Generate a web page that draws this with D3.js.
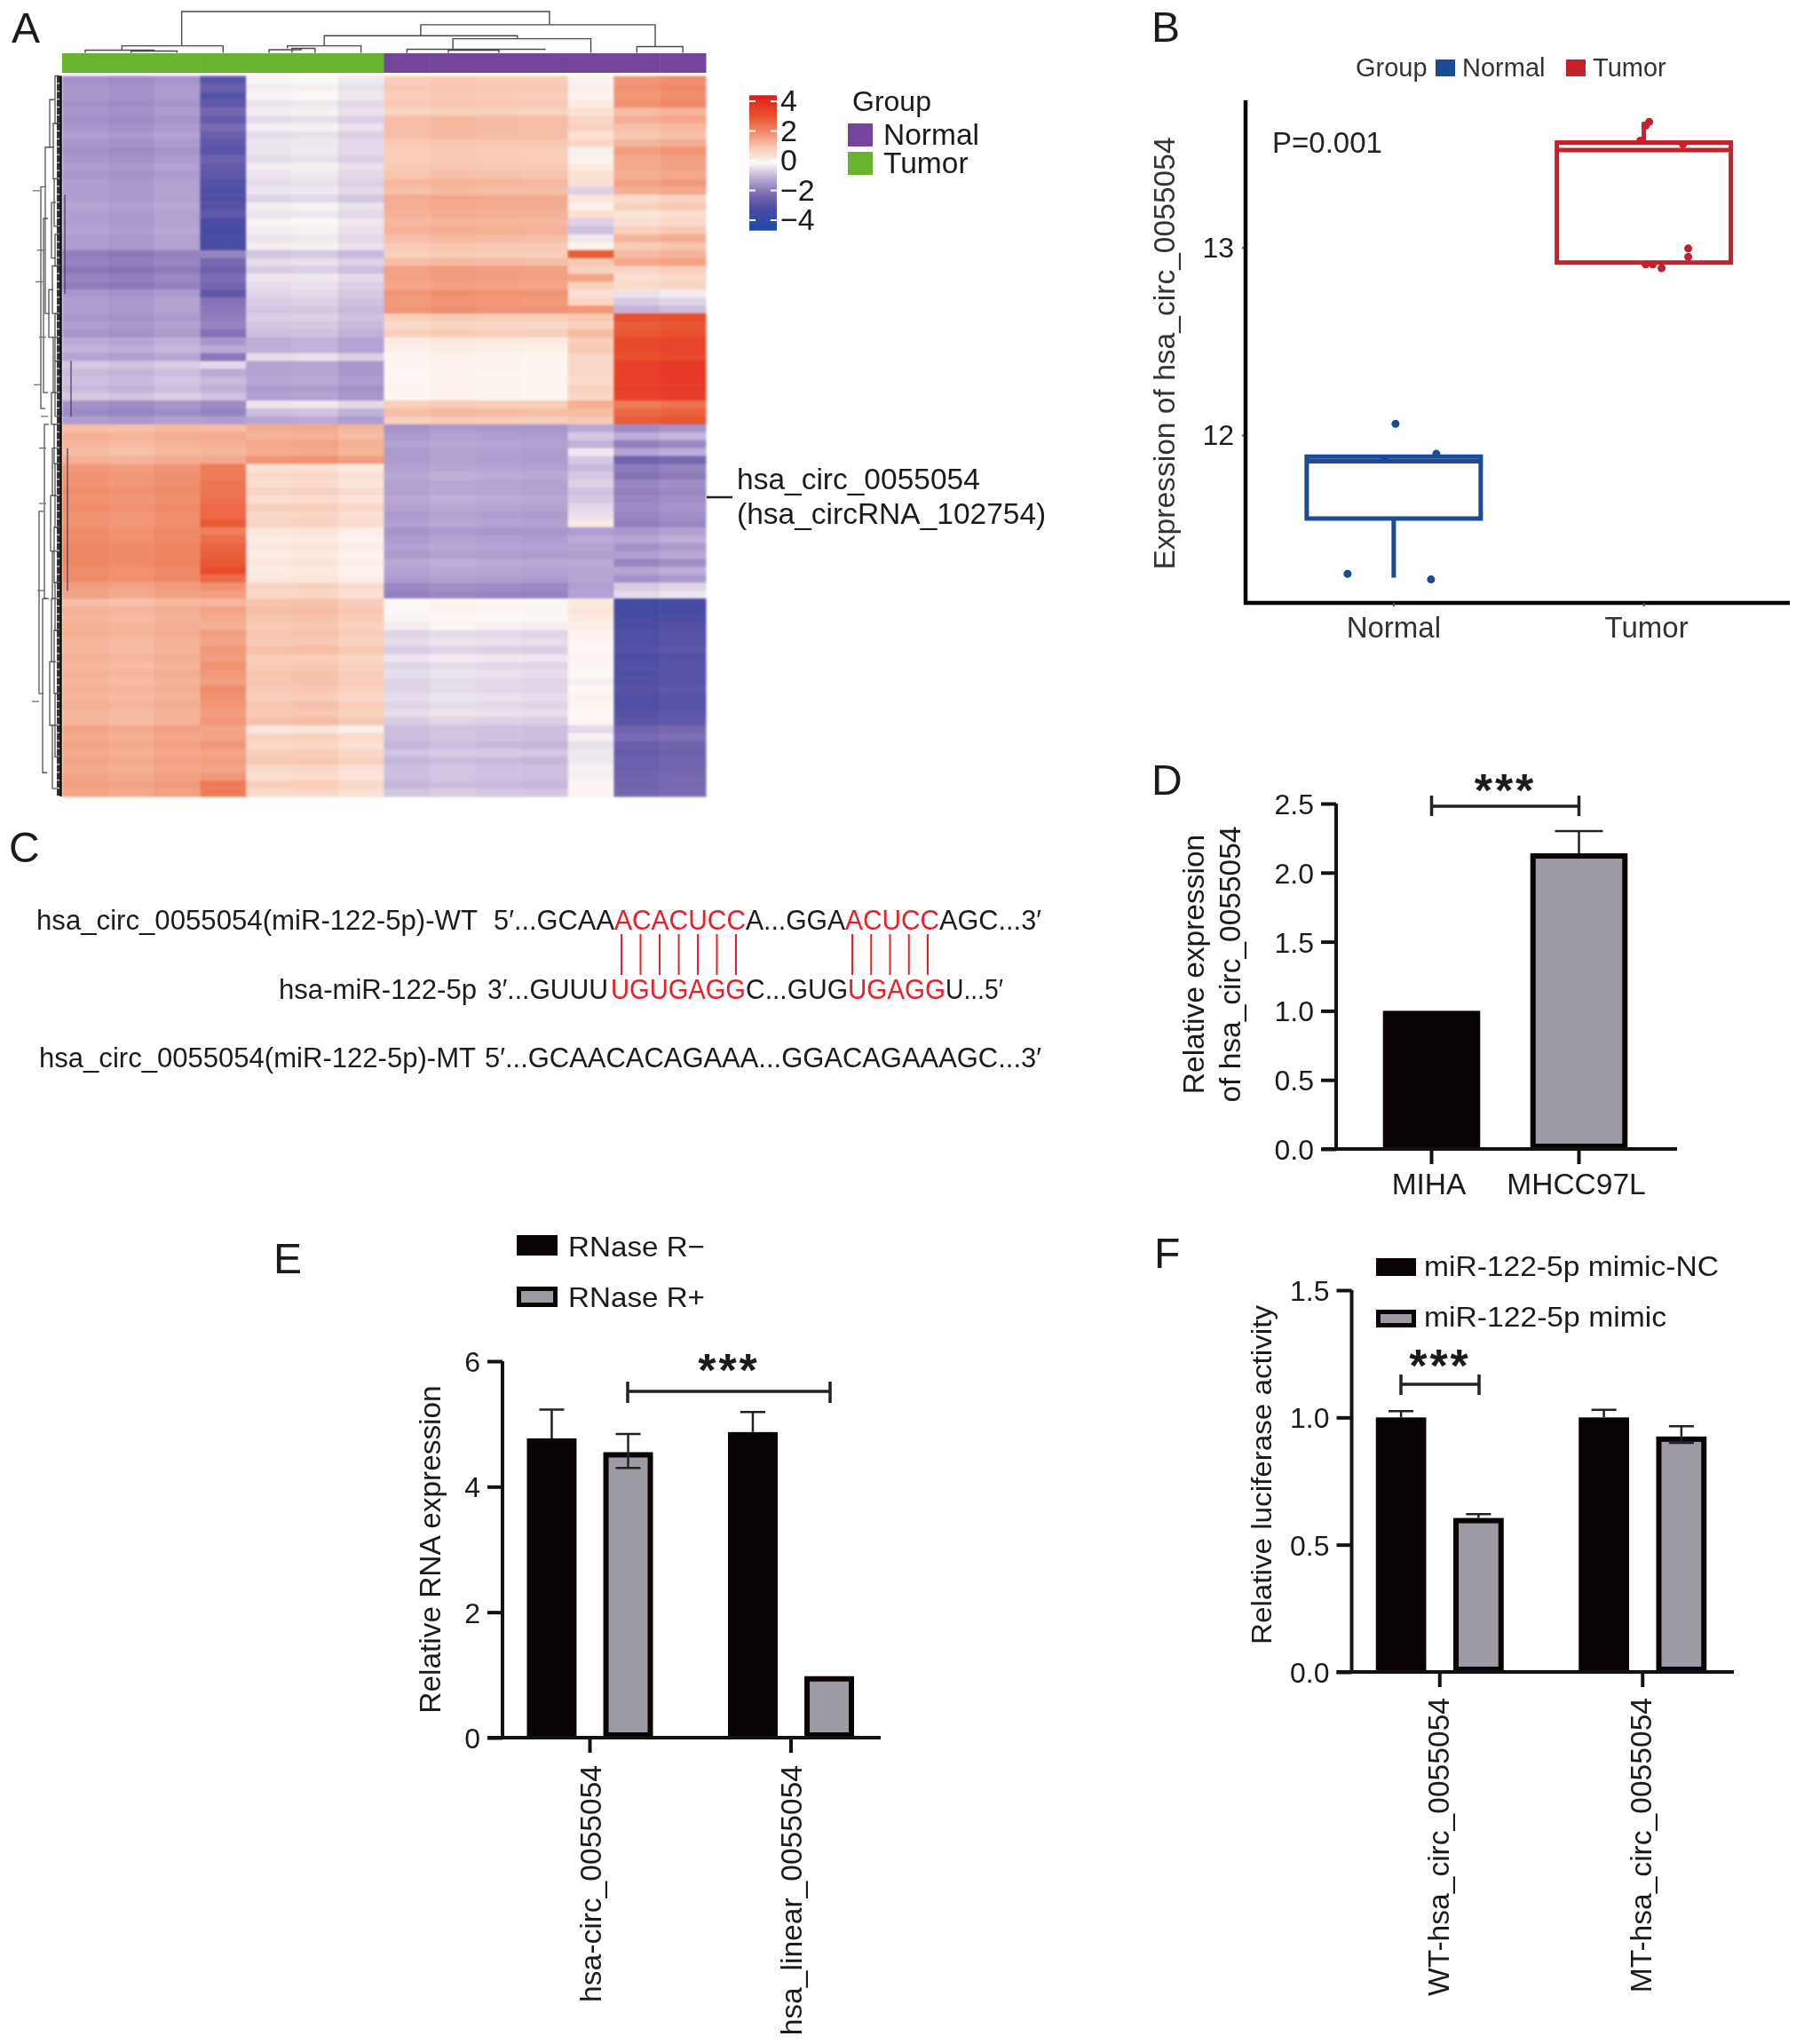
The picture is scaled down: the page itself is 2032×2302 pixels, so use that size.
<!DOCTYPE html>
<html><head><meta charset="utf-8">
<script src="https://cdn.jsdelivr.net/npm/d3@7"></script>
<style>
html,body{margin:0;padding:0;background:#fff}
svg{display:block;filter:blur(0.6px)}
text{font-family:"Liberation Sans",Arial,sans-serif;fill:#1c1a1b}
</style></head><body><svg id="c" width="2032" height="2302"></svg>
<script>
// ---------- DATA ----------
const heatColumns=d3.range(14);
const columnGroup=["Tumor","Tumor","Tumor","Tumor","Tumor","Tumor","Tumor","Normal","Normal","Normal","Normal","Normal","Normal","Normal"];
const columnBlock=[0,0,0,1,2,2,2,3,3,3,3,4,5,5];
const columnShift=[0,-0.08,0.05,0,0.05,0.1,-0.1,-0.05,0.05,0,-0.03,0,-0.08,0.05];
const heatRows=[
[-1.4,-2.7,-0.1,0.9,0.1,1.9],[-1.3,-2.4,-0.2,1.0,0.2,2.0],[-1.3,-2.8,-0.1,0.9,0.1,1.9],[-1.4,-2.6,-0.3,1.0,0.3,2.0],
[-1.3,-2.2,-0.2,0.8,0.5,1.3],[-1.4,-2.5,-0.4,1.2,0.7,1.5],[-1.3,-2.1,-0.2,1.2,0.8,1.2],[-1.2,-2.4,-0.4,1.2,0.5,1.1],[-1.3,-2.6,-0.3,1.0,0.7,1.4],
[-1.4,-2.7,-0.3,0.9,-0.1,1.8],[-1.3,-2.3,-0.4,0.9,0.1,1.6],[-1.2,-2.5,-0.2,1.0,0.3,1.6],[-1.3,-2.6,-0.3,1.1,0.5,1.5],[-1.2,-2.8,-0.4,1.3,0.5,1.7],[-1.2,-2.9,-0.3,1.2,-0.5,1.5],
[-1.2,-2.9,-0.5,1.5,0.4,0.7],[-1.1,-2.8,-0.2,1.5,0.2,0.9],[-1.2,-2.6,-0.3,1.4,0.5,0.5],[-1.2,-3.0,-0.1,1.3,-0.5,0.6],[-1.1,-3.1,-0.2,1.4,-0.7,0.9],[-1.2,-3.0,-0.3,1.2,-0.2,1.4],[-1.2,-3.0,-0.2,1.0,0.1,1.0],
[-1.7,-1.6,-0.7,0.9,2.8,1.3],[-1.6,-2.1,-0.4,1.2,1.0,1.6],
[-1.8,-2.3,-0.6,1.7,0.8,0.8],[-1.6,-2.0,-0.3,1.7,1.6,0.6],[-1.7,-2.2,-0.4,1.6,0.8,0.7],
[-1.3,-2.6,-0.5,1.9,0.5,-0.2],[-1.2,-1.9,-0.6,1.8,0.7,-0.5],[-1.2,-1.8,-0.7,1.9,1.8,-0.8],
[-1.3,-1.7,-0.6,0.9,1.0,3.1],[-1.2,-1.6,-0.7,0.7,0.8,2.9],[-1.3,-1.9,-0.8,0.9,1.2,3.0],
[-1.0,-1.3,-1.0,0.3,0.9,3.3],[-0.9,-1.0,-1.0,0.2,1.0,3.3],[-1.1,-1.8,-0.4,0.1,0.7,3.2],
[-0.6,-0.4,-1.2,0.1,0.7,3.6],[-0.8,-1.0,-1.2,0.05,0.7,3.6],[-0.7,-0.8,-1.1,0.1,0.6,3.6],[-0.8,-0.9,-1.3,0.1,0.8,3.6],[-0.6,-0.7,-1.2,0.1,0.7,3.5],
[-1.4,-1.5,-0.3,0.9,1.4,2.4],[-1.5,-1.6,-0.8,1.2,1.2,2.7],[-1.2,-1.2,-1.1,0.9,1.0,2.9],
[1.2,1.2,1.4,-1.3,-1.0,-1.4],[1.4,1.5,1.3,-1.2,-0.6,-0.9],[1.3,1.4,1.5,-1.1,-0.9,-1.6],[1.2,1.3,1.4,-1.2,-0.2,-1.0],[1.4,1.5,1.8,-1.2,-0.6,-2.2],
[1.8,2.3,0.4,-1.1,-0.8,-1.7],[1.9,2.3,0.6,-1.0,-0.6,-1.8],[1.9,2.4,0.5,-1.1,-0.5,-1.5],[2.0,2.4,0.7,-1.1,-0.7,-1.6],[1.9,2.5,0.5,-1.0,-0.6,-1.5],[2.0,2.6,0.8,-1.1,-0.4,-1.4],[1.9,2.6,0.6,-1.2,-0.3,-1.5],[1.9,2.9,0.7,-1.1,0.3,-1.6],
[2.0,2.2,0.3,-1.3,-1.2,-1.2],[2.0,2.5,0.2,-1.2,-1.0,-1.0],[2.1,2.7,0.3,-1.1,-1.1,-1.3],[2.1,2.8,0.2,-1.2,-1.2,-1.1],[2.1,2.9,0.3,-1.0,-1.0,-1.5],[2.0,3.2,0.2,-1.1,-1.1,-1.0],[2.0,2.6,0.3,-1.2,-1.1,-1.3],
[1.7,1.9,0.7,-1.5,-1.2,-0.5],[1.6,1.7,0.6,-1.6,-1.1,-0.3],
[1.2,1.3,1.0,0.05,0.3,-3.1],[1.4,1.6,1.1,0.05,0.4,-3.2],[1.3,1.5,1.0,0.0,0.3,-3.0],[1.4,1.4,0.9,-0.1,0.2,-2.9],
[1.4,1.7,1.0,-0.4,0.1,-2.8],[1.3,1.6,0.9,-0.3,0.05,-2.8],[1.3,1.8,1.1,-0.5,0.0,-2.7],[1.4,1.7,0.8,-0.2,-0.05,-2.9],[1.3,1.9,0.9,-0.4,0.05,-2.8],[1.4,1.8,1.0,-0.3,0.0,-2.8],[1.3,1.7,1.0,-0.4,-0.1,-2.8],[1.4,2.0,0.9,-0.4,0.0,-2.7],[1.3,1.9,0.8,-0.3,0.1,-2.8],[1.4,1.8,1.0,-0.4,0.05,-2.8],[1.3,1.7,0.9,-0.3,0.0,-2.7],[1.3,1.8,1.1,-0.5,0.05,-2.6],
[1.6,1.6,0.3,-0.7,-0.4,-2.2],[1.5,1.6,0.7,-0.7,-0.1,-2.0],[1.6,1.8,0.6,-0.8,-0.3,-2.3],[1.5,1.6,0.8,-0.6,-0.2,-2.4],[1.6,1.7,0.9,-0.8,-0.2,-2.3],[1.5,1.6,0.6,-0.7,-0.1,-2.3],[1.6,1.8,0.5,-0.7,-0.1,-2.2],[1.7,2.3,0.8,-0.8,0.05,-2.2],[1.6,2.3,0.6,-0.6,-0.05,-2.1]
];
const heatStops=[-4.4,-3,-2,-1,0,1,2,3,4.4];
const heatColors=['#1B4BA6','#4A4BA2','#7E6CB3','#BBAAD6','#FDF8F5','#F8C8B2','#F08C6A','#E9532F','#E41A1C'];
const colorTicks=[4,2,0,-2,-4];
const colorTickLabels=["4","2","0","\u22122","\u22124"];
const groupLegend=["Normal","Tumor"];
// top dendrogram merges: [left leaf pos, left child height, right leaf pos, right child height, height]
const topMerges=[
[1.5,0,2.5,0,2],[0.5,0,2.0,2,3],[1.3,3,3.5,0,8],
[5.0,0,5.5,0,5],[4.5,0,5.2,5,3.5],[4.9,5,6.5,0,8],
[8.4,0,9.5,0,3],[7.5,0,10.5,3,4],[8.5,4,11.5,0,16],[12.5,0,13.5,0,7],
[5.7,8,9.9,16,19.5],[7.8,19.5,12.9,7,32],[2.6,8,10.6,32,47]];
const rowTree=[
[0,6,6],[6,13,8],[3,9,12],[13,19,7],[16,23,10],[20,24,6],[24,30,9],[27,33,13],[30,36,6],[33,40,8],[36,43,6],[40,44,10],
[44,49,7],[47,53,9],[49,57,6],[53,60,11],[57,64,7],[60,66,9],[64,70,6],[66,74,10],[70,78,7],[74,82,12],[78,86,6],[82,90,9],
[9,30,17],[18,40,19],[44,66,18],[66,88,20],[14,42,22],[55,78,24]];
const rowStubs=[[14.5,31],[22,26],[26,28],[33,24],[39,30],[43,22],[47,24],[54,24],[65,26],[79,32]];
const rowOverlay=[[15,27.5,3],[36,43,10],[47,65,6]];

const boxCategories=["Normal","Tumor"];
const boxStats=[{q1:11.555,med:11.86,q3:11.885,lo:11.24,hi:11.885},{q1:12.92,med:13.52,q3:13.56,lo:12.92,hi:13.67}];
const boxColors=["#1A4B96","#C8202B"];
const boxPoints=[
[[0.01,12.06],[-0.26,11.26],[0.21,11.23],[-0.05,11.875],[0.24,11.90]],
[[0.03,13.67],[0.01,13.65],[-0.02,13.57],[0.22,13.55],[0.25,12.995],[0.25,12.95],[0.01,12.91],[0.05,12.91],[0.10,12.89]]];
const boxTicks=[12,13];

const seqLines=[
 {label:"hsa_circ_0055054(miR-122-5p)-WT",parts:[["5\u2032...GCAA",0],["ACACUCC",1],["A...GGA",0],["ACUCC",1],["AGC...3\u2032",0]]},
 {label:"hsa-miR-122-5p",parts:[["3\u2032...GUUU",0],["UGUGAGG",1],["C...GUG",0],["UGAGG",1],["U...5\u2032",0]]},
 {label:"hsa_circ_0055054(miR-122-5p)-MT",parts:[["5\u2032...GCAACACAGAAA...GGACAGAAAGC...3\u2032",0]]}];
const pairCount=[7,5];

const dCats=["MIHA","MHCC97L"];
const dVals=[1.0,2.14];
const dErr=[null,2.30];
const dTicks=[0,0.5,1,1.5,2,2.5];

const eGroups=["hsa-circ_0055054","hsa_linear_0055054"];
const eSeries=["RNase R\u2212","RNase R+"];
const eVals=[[4.77,4.55],[4.87,0.98]];
const eErrHi=[[5.23,4.84],[5.19,null]];
const eErrLo=[[null,4.3],[null,null]];
const eTicks=[0,2,4,6];

const fGroups=["WT-hsa_circ_0055054","MT-hsa_circ_0055054"];
const fSeries=["miR-122-5p mimic-NC","miR-122-5p mimic"];
const fVals=[[1.0,0.605],[1.0,0.925]];
const fErrHi=[[1.025,0.62],[1.03,0.965]];
const fErrLo=[[null,null],[null,0.90]];
const fTicks=[0,0.5,1,1.5];

// ---------- HELPERS ----------
const svg=d3.select("#c");
const BLACK="#0A0306",GRAY="#9C9BA3";
function T(x,y,s,o={}){
  const t=svg.append("text").attr("x",x).attr("y",y).text(s)
    .attr("font-size",o.size||32).attr("text-anchor",o.anchor||"start");
  if(o.rot!=null)t.attr("transform",`rotate(${o.rot} ${x} ${y})`);
  if(o.color)t.style("fill",o.color);
  if(o.weight)t.attr("font-weight",o.weight);
  if(o.len)t.attr("textLength",o.len).attr("lengthAdjust","spacingAndGlyphs");
  if(o.spacing)t.attr("letter-spacing",o.spacing);
  return t;
}
[["A",13,48],["B",1297,47],["C",10,971],["D",1297,895],["E",308,1434],["F",1300,1428]].forEach(d=>T(d[1],d[2],d[0],{size:48}));

// ---------- PANEL A ----------
const hx=d3.scaleBand().domain(heatColumns).range([70,795]);
const hy=d3.scaleBand().domain(d3.range(heatRows.length)).range([85.5,897]);
const hc=d3.scaleLinear().domain(heatStops).range(heatColors).clamp(true);
const hg=svg.append("g").style("filter","blur(1px)");
heatRows.forEach((row,r)=>{
  hg.selectAll(null).data(heatColumns).join("rect")
   .attr("x",c=>hx(c)).attr("y",hy(r)).attr("width",hx.bandwidth()+0.5).attr("height",hy.bandwidth()+0.5)
   .attr("fill",c=>hc(row[columnBlock[c]]+columnShift[c]));
});
const grpColor=d3.scaleOrdinal().domain(["Normal","Tumor"]).range(["#74459A","#6AB42D"]);
svg.append("g").selectAll("rect").data(heatColumns).join("rect")
  .attr("x",c=>hx(c)).attr("y",60).attr("width",hx.bandwidth()+0.5).attr("height",22)
  .attr("fill",c=>grpColor(columnGroup[c]));
// top dendrogram
const topX=d3.scaleLinear().domain([0,14]).range([70,795]);
const topY=d3.scaleLinear().domain([0,47]).range([59.5,13]);
svg.append("g").selectAll("path").data(topMerges).join("path")
  .attr("fill","none").attr("stroke","#4a4a4a").attr("stroke-width",1.4)
  .attr("d",m=>`M${topX(m[0])},${topY(m[1])}V${topY(m[4])}H${topX(m[2])}V${topY(m[3])}`);
// row dendrogram
const rowY=d3.scaleLinear().domain([0,heatRows.length]).range([85.5,897]);
const rowX=d3.scaleLinear().domain([0,32]).range([68,36]);
const rg=svg.append("g");
rg.append("g").selectAll("path").data(rowTree).join("path")
  .attr("fill","none").attr("stroke","#555").attr("stroke-width",1.3)
  .attr("d",m=>`M${rowX(m[2]-5)},${rowY(m[0])}H${rowX(m[2])}V${rowY(m[1])}H${rowX(m[2]-5)}`);
rg.append("g").selectAll("line").data(rowStubs).join("line")
  .attr("stroke","#666").attr("stroke-width",1.2)
  .attr("x1",d=>rowX(d[1])).attr("x2",d=>rowX(d[1]-8)).attr("y1",d=>rowY(d[0])).attr("y2",d=>rowY(d[0]));
rg.append("g").selectAll("rect").data(heatRows).join("rect")
  .attr("x",rowX(4)).attr("width",5).attr("y",(d,i)=>rowY(i)).attr("height",rowY(1)-rowY(0)-1).attr("fill","#333");
rg.append("line").attr("x1",rowX(-0.5)).attr("x2",rowX(-0.5)).attr("y1",rowY(0)).attr("y2",rowY(heatRows.length))
  .attr("stroke","#111").attr("stroke-width",2.5);
rg.append("g").selectAll("line").data(rowOverlay).join("line")
  .attr("stroke","#4b4560").attr("stroke-width",1.3)
  .attr("x1",d=>70+d[2]).attr("x2",d=>70+d[2]).attr("y1",d=>rowY(d[0])).attr("y2",d=>rowY(d[1]));
// colour bar
const barY=d3.scaleLinear().domain([4,-4]).range([114,248]);
const defs=svg.append("defs");
const grad=defs.append("linearGradient").attr("id","cbar").attr("x1",0).attr("x2",0).attr("y1",1).attr("y2",0);
grad.selectAll("stop").data(heatStops).join("stop")
  .attr("offset",(d,i)=>(d-heatStops[0])/(heatStops[heatStops.length-1]-heatStops[0]))
  .attr("stop-color",(d,i)=>heatColors[i]);
svg.append("rect").attr("x",844).attr("width",31).attr("y",barY(4.4)).attr("height",barY(-4.7)-barY(4.4)).attr("fill","url(#cbar)");
colorTicks.forEach((t,i)=>{
  [[844,851],[868,875]].forEach(p=>svg.append("line").attr("x1",p[0]).attr("x2",p[1]).attr("y1",barY(t)).attr("y2",barY(t)).attr("stroke","#fff").attr("stroke-width",2));
  T(879,barY(t)+11,colorTickLabels[i],{size:34});
});
T(960,125,"Group",{size:32});
groupLegend.forEach((g,i)=>{
  svg.append("rect").attr("x",955).attr("y",139+i*32).attr("width",28).attr("height",26).attr("fill",grpColor(g));
  T(995,163+i*32,g,{size:33.5});
});
svg.append("line").attr("x1",796).attr("x2",825).attr("y1",560).attr("y2",560).attr("stroke","#222").attr("stroke-width",2.5);
T(830,551,"hsa_circ_0055054",{size:33.5});
T(830,590,"(hsa_circRNA_102754)",{size:33.5});

// ---------- PANEL B ----------
const bx=d3.scaleBand().domain(boxCategories).range([1570-141,1851.5+141]).padding(0);
const by=d3.scaleLinear().domain([12,13]).range([490,278.8]);
const bw=200;
const baxisY=d3.axisLeft(by).tickValues(boxTicks).tickSize(4).tickPadding(9).tickFormat(d3.format("d"));
const ga=svg.append("g").attr("transform","translate(1403,0)").call(baxisY);
ga.select(".domain").remove();
ga.selectAll("line").attr("stroke","#555").attr("stroke-width",2);
ga.selectAll("text").attr("font-size",32);
svg.append("path").attr("fill","none").attr("stroke","#000").attr("stroke-width",4.5)
  .attr("d",`M1403,113V679H2016`);
boxCategories.forEach((c,i)=>{
  const s=boxStats[i],cx=bx(c)+bx.bandwidth()/2,col=boxColors[i],x0=cx-bw/2+2;
  const g=svg.append("g").attr("stroke",col).attr("stroke-width",5).attr("fill","none");
  g.append("rect").attr("x",x0).attr("y",by(s.q3)).attr("width",bw-4).attr("height",by(s.q1)-by(s.q3));
  g.append("line").attr("x1",x0).attr("x2",x0+bw-4).attr("y1",by(s.med)).attr("y2",by(s.med)).attr("stroke-width",5);
  g.append("line").attr("x1",cx).attr("x2",cx).attr("y1",by(s.q1)).attr("y2",by(s.lo));
  g.append("line").attr("x1",cx).attr("x2",cx).attr("y1",by(s.q3)).attr("y2",by(s.hi));
  svg.append("g").selectAll("circle").data(boxPoints[i]).join("circle")
   .attr("cx",d=>cx+d[0]*bw*1.0).attr("cy",d=>by(d[1])).attr("r",4.5).attr("fill",col);
  svg.append("line").attr("x1",cx).attr("x2",cx).attr("y1",679).attr("y2",683).attr("stroke","#555").attr("stroke-width",2);
  T(cx+i*3,718,c,{size:33,anchor:"middle",color:"#333"});
});
T(1433,172,"P=0.001",{size:33,color:"#222"});
T(1323,398,"Expression of hsa_circ_0055054",{size:33.6,anchor:"middle",rot:-90,color:"#333"});
T(1527,86,"Group",{size:29,color:"#333"});
boxCategories.forEach((c,i)=>{
  const kx=[1617,1764][i];
  svg.append("rect").attr("x",kx).attr("y",67).attr("width",22).attr("height",19).attr("fill",boxColors[i]);
  T(kx+30,86,c,{size:29,color:"#333"});
});

// ---------- PANEL C ----------
const seqLayout=[
 {y:1047,lab:[41,497],seg:[[556,136],[692,148],[840,112],[952,106],[1058,115]]},
 {y:1125,lab:[314,223],seg:[[549,136],[688,152],[840,115],[955,110],[1065,65]]},
 {y:1202,lab:[44,492],seg:[[546,627]]}];
seqLines.forEach((l,i)=>{
  const q=seqLayout[i];
  T(q.lab[0],q.y,l.label,{size:31,len:q.lab[1]});
  l.parts.forEach((p,j)=>T(q.seg[j][0],q.y,p[0],{size:31,len:q.seg[j][1],color:p[1]?"#E8202A":"#1c1a1b"}));
});
const pairScale=[d3.scalePoint().domain(d3.range(pairCount[0])).range([700,829]),d3.scalePoint().domain(d3.range(pairCount[1])).range([960,1045])];
pairScale.forEach(s=>{
  svg.append("g").selectAll("line").data(s.domain()).join("line")
   .attr("x1",d=>s(d)).attr("x2",d=>s(d)).attr("y1",1052).attr("y2",1098).attr("stroke","#E8202A").attr("stroke-width",2);
});

// ---------- BAR HELPERS ----------
function yAxis(scale,x,ticks,fmt,size){
  const a=d3.axisLeft(scale).tickValues(ticks).tickSize(17).tickPadding(8).tickFormat(fmt);
  const g=svg.append("g").attr("transform",`translate(${x},0)`).call(a);
  g.select(".domain").attr("stroke","#111").attr("stroke-width",4).attr("d",`M0,${scale(ticks[ticks.length-1])}V${scale(0)}`);
  g.selectAll("line").attr("stroke","#111").attr("stroke-width",4);
  g.selectAll("text").attr("font-size",size).attr("dy","0.36em");
}
function xBase(y,x0,x1,ticks,len){
  svg.append("line").attr("x1",x0).attr("x2",x1).attr("y1",y).attr("y2",y).attr("stroke","#111").attr("stroke-width",4);
  ticks.forEach(t=>svg.append("line").attr("x1",t).attr("x2",t).attr("y1",y).attr("y2",y+len).attr("stroke","#111").attr("stroke-width",4));
}
function bar(x,w,yTop,yBase,gray){
  if(gray)svg.append("rect").attr("x",x+3).attr("y",yTop+3).attr("width",w-6).attr("height",yBase-yTop-6).attr("fill",GRAY).attr("stroke",BLACK).attr("stroke-width",6);
  else svg.append("rect").attr("x",x).attr("y",yTop).attr("width",w).attr("height",yBase-yTop).attr("fill",BLACK);
}
function err(cx,y0,y1,half){
  svg.append("path").attr("fill","none").attr("stroke","#222").attr("stroke-width",2.5)
    .attr("d",`M${cx},${y0}V${y1}M${cx-half},${y1}H${cx+half}`);
}
function sig(x0,x1,y,up,down,sy){
  svg.append("path").attr("fill","none").attr("stroke","#222").attr("stroke-width",3.5)
    .attr("d",`M${x0},${y-up}V${y+down}M${x0},${y}H${x1}M${x1},${y-up}V${y+down}`);
  T((x0+x1)/2,sy,"***",{size:52,anchor:"middle",weight:"bold",spacing:3});
}
function legendKey(x,y,w,h,gray,label,tx,ty,size,len){
  if(gray)svg.append("rect").attr("x",x+2.5).attr("y",y+2.5).attr("width",w-5).attr("height",h-5).attr("fill",GRAY).attr("stroke",BLACK).attr("stroke-width",5);
  else svg.append("rect").attr("x",x).attr("y",y).attr("width",w).attr("height",h).attr("fill",BLACK);
  T(tx,ty,label,{size:size,len:len});
}

// ---------- PANEL D ----------
const dx=d3.scaleBand().domain(dCats).range([1529.5,1861.5]).paddingInner(0.34).paddingOuter(0.17);
const dy=d3.scaleLinear().domain([0,2.5]).range([1294,905]);
yAxis(dy,1505,dTicks,d3.format(".1f"),32);
dCats.forEach((c,i)=>{
  const x=dx(c),w=dx.bandwidth(),cx=x+w/2;
  if(dErr[i]!=null)err(cx,dy(dVals[i]),dy(dErr[i]),27);
  bar(x,w,dy(dVals[i]),dy(0),i==1);
  T(cx-3,1345,c,{size:33.5,anchor:"middle"});
});
xBase(1294,1489,1889,dCats.map(c=>dx(c)+dx.bandwidth()/2),17);
sig(dx(dCats[0])+dx.bandwidth()/2,dx(dCats[1])+dx.bandwidth()/2,908,12,11,908);
T(1356,1086,"Relative expression",{size:33.5,anchor:"middle",rot:-90});
T(1397,1086,"of hsa_circ_0055054",{size:33.5,anchor:"middle",rot:-90});

// ---------- PANELS E/F ----------
function grouped(cfg){
  const x0=d3.scaleBand().domain(cfg.groups).range(cfg.range);
  const x1=d3.scaleBand().domain(cfg.series).range([-cfg.half,cfg.half]).paddingInner(0.35);
  const y=d3.scaleLinear().domain([0,cfg.max]).range(cfg.yr);
  yAxis(y,cfg.axisX,cfg.ticks,cfg.fmt,32);
  const centres=cfg.groups.map(g=>x0(g)+x0.bandwidth()/2);
  cfg.groups.forEach((g,gi)=>{
    cfg.series.forEach((s,si)=>{
      const x=centres[gi]+x1(s),w=x1.bandwidth(),cx=x+w/2;
      if(cfg.errHi[gi][si]!=null)err(cx,y(cfg.vals[gi][si]),y(cfg.errHi[gi][si]),14);
      bar(x,w,y(cfg.vals[gi][si]),y(0),si==1);
      if(cfg.errLo[gi][si]!=null)err(cx,y(cfg.vals[gi][si]),y(cfg.errLo[gi][si]),14);
    });
    T(centres[gi]+cfg.labelDx,cfg.labelY,g,{size:33.6,anchor:"end",rot:-90});
  });
  xBase(cfg.yr[0],cfg.axisX-17,cfg.axisEnd,centres,17);
  return {centres,x1};
}
const E=grouped({groups:eGroups,series:eSeries,vals:eVals,errHi:eErrHi,errLo:eErrLo,half:71,range:[551.25,1004.25],max:6,yr:[1957,1533],axisX:566,axisEnd:992,ticks:eTicks,fmt:d3.format("d"),labelDx:12,labelY:1988});
sig(707,935,1567,11,13,1561);
legendKey(582,1391,46,23,false,eSeries[0],640,1415,32,154);
legendKey(582,1449,46,23,true,eSeries[1],640,1472,32,154);
T(496,1745,"Relative RNA expression",{size:33.4,anchor:"middle",rot:-90});

const F=grouped({groups:fGroups,series:fSeries,vals:fVals,errHi:fErrHi,errLo:fErrLo,half:72,range:[1507.5,1964.5],max:1.5,yr:[1883,1453],axisX:1522.5,axisEnd:1953,ticks:fTicks,fmt:d3.format(".1f"),labelDx:10,labelY:1912});
sig(1578,1666,1559,11,12,1556);
legendKey(1550,1417,45,20,false,fSeries[0],1604,1437,32,332);
legendKey(1550,1475,45,20,true,fSeries[1],1604,1494,32,273);
T(1432,1661,"Relative luciferase activity",{size:32,anchor:"middle",rot:-90,len:382});
</script></body></html>
